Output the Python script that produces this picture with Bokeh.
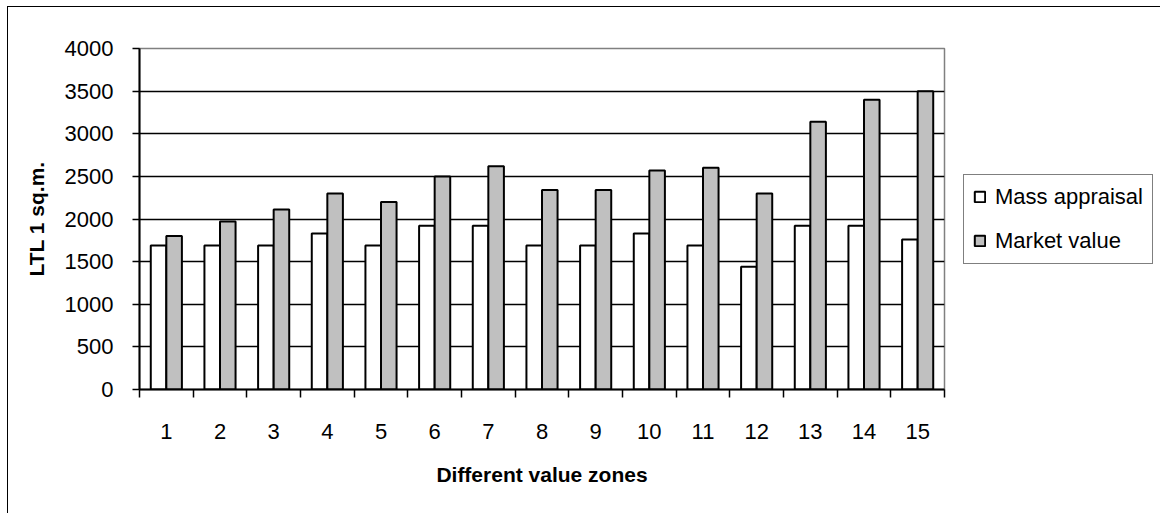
from bokeh.plotting import figure
from bokeh.models import FixedTicker, Legend, LegendItem, ColumnDataSource
from bokeh.transform import dodge
from bokeh.embed import file_html
from bokeh.resources import INLINE

zones = [str(i) for i in range(1, 16)]
mass_appraisal = [1690, 1690, 1690, 1830, 1690, 1920, 1920, 1690, 1690, 1830, 1690, 1440, 1920, 1920, 1760]
market_value = [1800, 1970, 2110, 2300, 2200, 2500, 2620, 2340, 2340, 2570, 2600, 2300, 3140, 3400, 3500]
y_ticks = [0, 500, 1000, 1500, 2000, 2500, 3000, 3500, 4000]
series_names = ["Mass appraisal", "Market value"]

positions = list(range(1, len(zones) + 1))
source = ColumnDataSource(dict(pos=positions, mass=mass_appraisal, market=market_value))

FONT = "Liberation Sans"

p = figure(frame_width=805, frame_height=341, x_range=(0.5, len(zones) + 0.5), y_range=(y_ticks[0], y_ticks[-1]),
           output_backend="svg", toolbar_location=None,
           min_border_left=131, min_border_right=212, min_border_top=41, min_border_bottom=124)
p.styles = {"border-left": "1px solid black", "border-top": "1px solid black",
            "margin-left": "7px", "margin-top": "6px"}
p.background_fill_color = "white"
p.border_fill_color = "white"
p.outline_line_color = "#808080"
p.outline_line_width = 1.5

r1 = p.vbar(x=dodge("pos", -0.145), top="mass", width=0.29, source=source,
            fill_color="white", line_color="black", line_width=2)
r2 = p.vbar(x=dodge("pos", 0.145), top="market", width=0.29, source=source,
            fill_color="#C0C0C0", line_color="black", line_width=2)

# x axis
p.xaxis.ticker = FixedTicker(ticks=positions, minor_ticks=[i + 0.5 for i in range(0, len(zones) + 1)])
p.xaxis.major_label_overrides = {pos: z for pos, z in zip(positions, zones)}
p.xaxis.major_tick_line_color = None
p.xaxis.major_tick_out = 8
p.xaxis.major_tick_in = 0
p.xaxis.minor_tick_line_color = "black"
p.xaxis.minor_tick_line_width = 1.5
p.xaxis.minor_tick_out = 8
p.xaxis.minor_tick_in = 0
p.xaxis.major_label_standoff = 26
p.xaxis.axis_label = "Different value zones"
p.xaxis.axis_label_standoff = 21

# y axis
p.yaxis.ticker = FixedTicker(ticks=y_ticks)
p.yaxis.major_tick_out = 7
p.yaxis.major_tick_in = 0
p.yaxis.major_tick_line_color = "black"
p.yaxis.major_tick_line_width = 1.5
p.yaxis.minor_tick_line_color = None
p.yaxis.major_label_standoff = 19
p.yaxis.axis_label = "LTL 1 sq.m."
p.yaxis.axis_label_standoff = 14

for ax in (p.xaxis, p.yaxis):
    ax.axis_line_color = "black"
    ax.axis_line_width = 2
    ax.major_label_text_font = FONT
    ax.major_label_text_font_size = "22px"
    ax.major_label_text_color = "black"
    ax.axis_label_text_font = FONT
    ax.axis_label_text_font_size = "21px"
    ax.axis_label_text_font_style = "bold"
    ax.axis_label_text_color = "black"

p.xgrid.grid_line_color = None
p.ygrid.ticker = FixedTicker(ticks=y_ticks[1:-1])
p.ygrid.grid_line_color = "black"
p.ygrid.grid_line_width = 1.5

legend = Legend(items=[LegendItem(label=series_names[0], renderers=[r1]),
                       LegendItem(label=series_names[1], renderers=[r2])],
                location="left", margin=19, padding=9, spacing=18,
                glyph_width=13, glyph_height=13, label_height=26, label_standoff=9,
                label_text_font=FONT, label_text_font_size="22px", label_text_color="black",
                border_line_color="black", border_line_width=1.5,
                background_fill_color="white")
p.add_layout(legend, "right")

open("out.html", "w").write(file_html(p, INLINE))
